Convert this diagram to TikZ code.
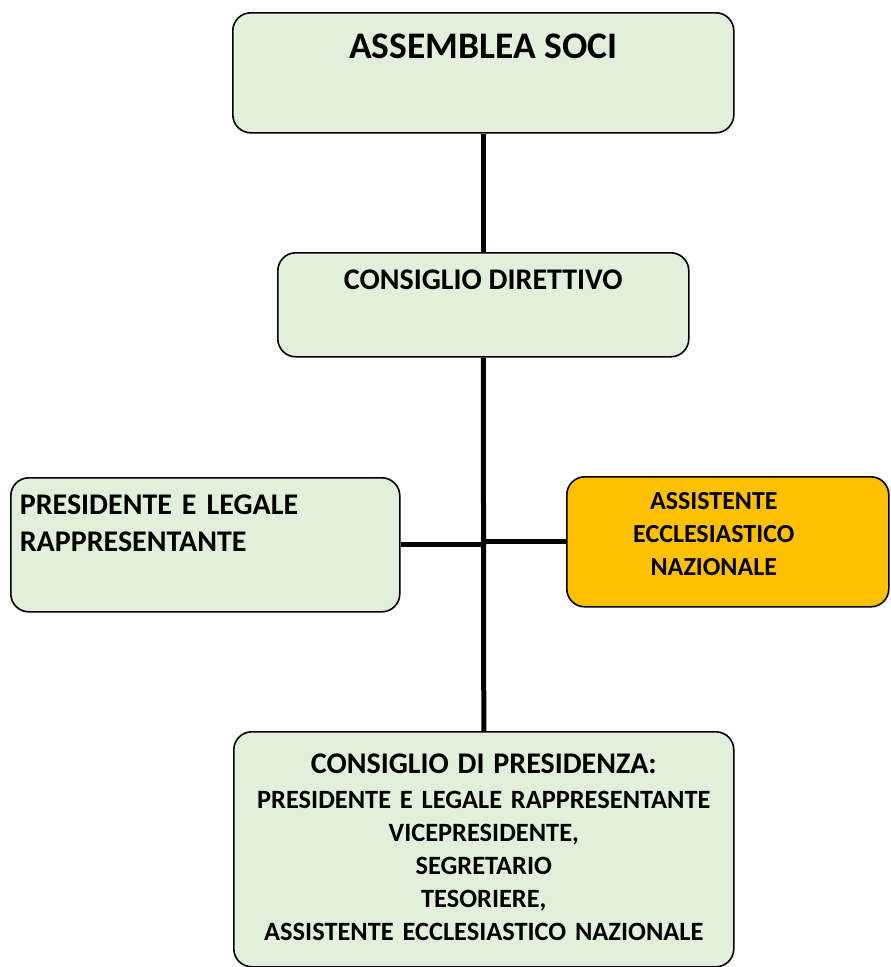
\documentclass[tikz,border=0pt]{standalone}
\usepackage{fontspec}
\setmainfont{Carlito}
\usepackage{xcolor}
\definecolor{boxgreen}{HTML}{E2EFDA}
\definecolor{boxgold}{HTML}{FFC000}
\usepackage{tikz}
\usetikzlibrary{positioning,calc}

\begin{document}
\begin{tikzpicture}[
  x=1pt,
  y=-1pt,
  box/.style={draw=black, line width=1.6pt, fill=boxgreen, rounded corners=18pt,
              inner xsep=0pt, inner ysep=0pt, anchor=north west, align=center},
  link/.style={black, line width=5pt},
]
\useasboundingbox (0,0) rectangle (891,967);

% Boxes
\node[box, minimum width=501pt, text height=46pt, text depth=74pt,
      font=\bfseries\fontsize{37.5}{44}\selectfont] (assemblea) at (232,12) {ASSEMBLEA SOCI};

\node[box, minimum width=411pt, text height=37pt, text depth=67pt,
      font=\bfseries\fontsize{30}{37}\selectfont] (direttivo) at (277,252) {CONSIGLIO DIRETTIVO};

\node[box, align=left, text width=371pt, inner xsep=9pt, text height=37pt, text depth=97pt,
      font=\bfseries\fontsize{30}{36.7}\selectfont] (presidente) at (10,477)
      {PRESIDENTE E LEGALE\\RAPPRESENTANTE};

\node[box, fill=boxgold, align=left, text width=322pt, text height=33pt, text depth=97pt,
      font=\bfseries\fontsize{26}{33}\selectfont] (assistente) at (566,476)
      {\parbox[t]{294pt}{\centering ASSISTENTE\\ECCLESIASTICO\\NAZIONALE}};

\node[box, text width=500pt, text height=42pt, text depth=193pt,
      font=\bfseries\fontsize{26.4}{33}\selectfont] (presidenza) at (233,731)
      {{\fontsize{30}{36}\selectfont CONSIGLIO DI PRESIDENZA:}\\[2pt]
       PRESIDENTE E LEGALE RAPPRESENTANTE\\
       VICEPRESIDENTE,\\
       SEGRETARIO\\
       TESORIERE,\\
       ASSISTENTE ECCLESIASTICO NAZIONALE};

% Connectors
\draw[link] (assemblea.south) -- (direttivo.north);
\draw[link] (direttivo.south) -- (presidenza.north);
\draw[link] (presidente.east) -- (presidente.east -| direttivo.south);
\draw[link] (assistente.west) -- (assistente.west -| direttivo.south);

\end{tikzpicture}
\end{document}
